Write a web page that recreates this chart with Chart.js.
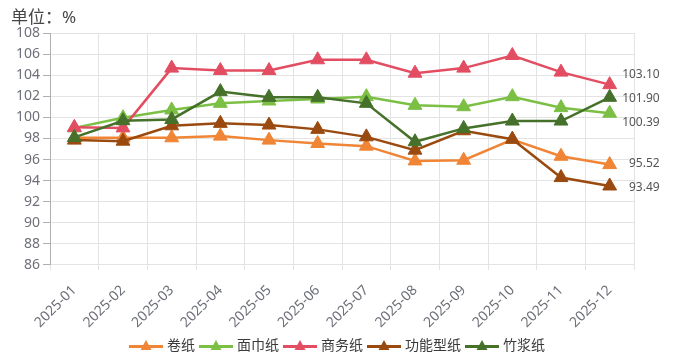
<!DOCTYPE html>
<html><head><meta charset="utf-8">
<script src="https://cdn.jsdelivr.net/npm/chart.js@4/dist/chart.umd.min.js"></script>
<style>html,body{margin:0;padding:0;background:#fff;}#wrap{width:674px;height:362px;position:relative;}</style>
</head><body><div id="wrap"><canvas id="c"></canvas></div>
<script>
const categories = ['2025-01','2025-02','2025-03','2025-04','2025-05','2025-06','2025-07','2025-08','2025-09','2025-10','2025-11','2025-12'];
const seriesNames = ['卷纸','面巾纸','商务纸','功能型纸','竹浆纸'];
const juanzhi = [98.06, 98.06, 98.06, 98.22, 97.84, 97.52, 97.27, 95.87, 95.93, 97.90, 96.31, 95.52];
const mianjinzhi = [99.00, 99.97, 100.70, 101.33, 101.55, 101.74, 101.96, 101.14, 101.01, 101.96, 100.92, 100.39];
const shangwuzhi = [99.05, 99.00, 104.67, 104.44, 104.44, 105.46, 105.46, 104.19, 104.67, 105.87, 104.29, 103.10];
const gongnengxingzhi = [97.84, 97.74, 99.20, 99.43, 99.27, 98.86, 98.15, 96.89, 98.73, 97.93, 94.29, 93.49];
const zhujiangzhi = [98.10, 99.68, 99.80, 102.44, 101.90, 101.90, 101.33, 97.68, 98.95, 99.65, 99.65, 101.90];
const yTicks = {min: 86, max: 108, step: 2};
const unitTitle = '单位：%';

const colors = ['#ef8535', '#7cbf45', '#e34d62', '#9b4a0f', '#45712a'];
const seriesValues = [juanzhi, mianjinzhi, shangwuzhi, gongnengxingzhi, zhujiangzhi];
const FONT = "'Noto Sans', 'Noto Sans CJK SC', sans-serif";

const datasets = seriesNames.map((name, i) => ({
  label: name,
  data: seriesValues[i],
  borderColor: colors[i],
  backgroundColor: colors[i],
  pointBackgroundColor: colors[i],
  pointBorderColor: colors[i],
  pointStyle: 'triangle',
  pointRadius: 8,
  pointBorderWidth: 1,
  borderWidth: 2.5,
  tension: 0,
  order: seriesNames.length - i
}));

const titlePlugin = {
  id: 'unitTitle',
  afterDraw(chart){
    const ctx = chart.ctx;
    ctx.save();
    ctx.font = '17px ' + FONT;
    ctx.fillStyle = '#464646';
    ctx.textAlign = 'left';
    ctx.textBaseline = 'middle';
    ctx.fillText(unitTitle, 11, 18);
    ctx.restore();
  }
};

// bottom legend: icon (line + triangle) followed by series name, centred under the canvas
const legendPlugin = {
  id: 'lineLegend',
  afterDraw(chart){
    const ctx = chart.ctx;
    const iconW = 34, iconGap = 4, itemGap = 4;
    ctx.save();
    ctx.font = '14px ' + FONT;
    const widths = chart.data.datasets.map(ds => iconW + iconGap + ctx.measureText(ds.label).width);
    const total = widths.reduce((s, w) => s + w, 0) + itemGap * (widths.length - 1);
    let x = (chart.width - total) / 2;
    const cy = chart.height - 15.5;
    chart.data.datasets.forEach((ds, i) => {
      const c = ds.borderColor;
      ctx.strokeStyle = c; ctx.lineWidth = 3;
      ctx.beginPath(); ctx.moveTo(x, cy); ctx.lineTo(x + iconW, cy); ctx.stroke();
      ctx.fillStyle = c;
      const mx = x + iconW / 2;
      ctx.beginPath(); ctx.moveTo(mx, cy - 6.5); ctx.lineTo(mx + 5.5, cy + 3.5); ctx.lineTo(mx - 5.5, cy + 3.5); ctx.closePath(); ctx.fill();
      ctx.fillStyle = '#3a3a3a';
      ctx.textAlign = 'left';
      ctx.textBaseline = 'middle';
      ctx.fillText(ds.label, x + iconW + iconGap, cy);
      x += widths[i] + itemGap;
    });
    ctx.restore();
  }
};

const endLabelPlugin = {
  id: 'endLabels',
  afterDatasetsDraw(chart){
    const ctx = chart.ctx;
    const items = [];
    chart.data.datasets.forEach((ds, i) => {
      const meta = chart.getDatasetMeta(i);
      const pt = meta.data[meta.data.length - 1];
      items.push({x: pt.x, y: pt.y, text: ds.data[ds.data.length - 1].toFixed(2)});
    });
    items.sort((a, b) => a.y - b.y);
    const gap = 24;
    let groups = items.map(it => ({members: [it], center: it.y}));
    let merged = true;
    while (merged) {
      merged = false;
      for (let k = 0; k < groups.length - 1; k++) {
        const a = groups[k], b = groups[k + 1];
        const aBottom = a.center + (a.members.length - 1) * gap / 2;
        const bTop = b.center - (b.members.length - 1) * gap / 2;
        if (bTop - aBottom < gap) {
          const members = a.members.concat(b.members);
          const center = members.reduce((s, m) => s + m.y, 0) / members.length;
          groups.splice(k, 2, {members, center});
          merged = true; break;
        }
      }
    }
    ctx.save();
    ctx.font = '12px ' + FONT;
    ctx.fillStyle = '#555';
    ctx.textAlign = 'right';
    ctx.textBaseline = 'middle';
    groups.forEach(g => g.members.forEach((m, j) => {
      const ly = g.center + (j - (g.members.length - 1) / 2) * gap;
      ctx.fillText(m.text, m.x + 50, ly);
    }));
    ctx.restore();
  }
};

new Chart(document.getElementById('c'), {
  type: 'line',
  data: {labels: categories, datasets},
  options: {
    responsive: true,
    maintainAspectRatio: false,
    animation: false,
    devicePixelRatio: 1,
    layout: {padding: {left: 13, right: 40, top: 33, bottom: 19}},
    plugins: {
      tooltip: {enabled: false},
      title: {display: false},
      legend: {display: false}
    },
    scales: {
      x: {
        offset: true,
        grid: {offset: true, color: '#e3e3e3', tickLength: 5, tickColor: '#e3e3e3'},
        border: {color: '#e3e3e3'},
        ticks: {maxRotation: 45, minRotation: 45, color: '#6e7079', font: {size: 14, family: FONT}, padding: 12, autoSkip: false}
      },
      y: {
        min: yTicks.min, max: yTicks.max,
        grid: {color: '#e3e3e3', tickLength: 7, tickColor: '#b0b0b0'},
        border: {color: '#b0b0b0'},
        ticks: {stepSize: yTicks.step, color: '#6e7079', font: {size: 14, family: FONT}, padding: 3}
      }
    }
  },
  plugins: [titlePlugin, endLabelPlugin, legendPlugin]
});
</script>
</body></html>
